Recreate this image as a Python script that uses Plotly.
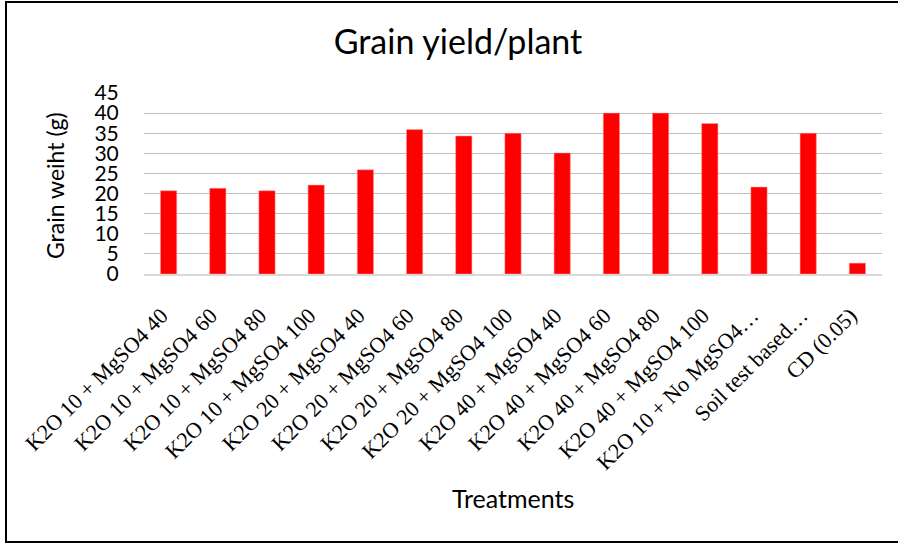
import plotly.graph_objects as go

categories = [
    "K2O 10 + MgSO4 40", "K2O 10 + MgSO4 60", "K2O 10 + MgSO4 80", "K2O 10 + MgSO4 100",
    "K2O 20 + MgSO4 40", "K2O 20 + MgSO4 60", "K2O 20 + MgSO4 80", "K2O 20 + MgSO4 100",
    "K2O 40 + MgSO4 40", "K2O 40 + MgSO4 60", "K2O 40 + MgSO4 80", "K2O 40 + MgSO4 100",
    "K2O 10 + No MgSO4…", "Soil test based…", "CD (0.05)",
]
grain_weight = [20.7, 21.3, 20.7, 22.1, 25.9, 35.9, 34.3, 35.0, 30.1, 40.0, 40.0, 37.4, 21.6, 35.0, 2.7]

W, H = 898, 544
L, R, T, B = 144, 16, 93, 270

fig = go.Figure(go.Bar(x=categories, y=grain_weight, marker=dict(color="#FF0000", line=dict(color="#FF9999", width=0.5)), width=0.33))

pw = W - L - R
ph = H - T - B

def px_x(x):
    return (x - L) / pw

def px_y(y):
    return (H - B - y) / ph

fig.update_layout(
    width=W, height=H,
    margin=dict(l=L, r=R, t=T, b=B, autoexpand=False),
    paper_bgcolor="white", plot_bgcolor="white",
    showlegend=False,
    title=dict(text="Grain yield/plant", x=458 / W, xanchor="center", y=1 - 42 / H, yanchor="middle",
               font=dict(family="Lato", size=34, color="#000000")),
    xaxis=dict(tickangle=-45, tickfont=dict(family="Liberation Serif", size=22, color="#000000"),
               showgrid=False, showline=True, linecolor="#D9D9D9", linewidth=2,
               ticks="outside", ticklen=18, tickcolor="rgba(0,0,0,0)", automargin=False,
               ticklabelshift=-7),
    yaxis=dict(range=[0, 45], dtick=5, showgrid=True, gridcolor="#BFBFBF", gridwidth=1.3,
               zeroline=False, tickfont=dict(family="Lato", size=21, color="#000000"),
               ticks="outside", ticklen=20, tickcolor="rgba(0,0,0,0)", automargin=False),
    annotations=[
        dict(text="Treatments", xref="paper", yref="paper", x=px_x(513), y=px_y(498),
             xanchor="center", yanchor="middle", showarrow=False,
             font=dict(family="Lato", size=25, color="#000000")),
        dict(text="Grain weiht (g)", xref="paper", yref="paper", x=px_x(55), y=px_y(186),
             xanchor="center", yanchor="middle", showarrow=False, textangle=-90,
             font=dict(family="Lato", size=23, color="#000000")),
    ],
    shapes=[dict(type="rect", xref="paper", yref="paper",
                 x0=px_x(6), x1=px_x(905), y0=px_y(542), y1=px_y(2),
                 line=dict(color="#000000", width=2), layer="above")],
)

fig.write_html("out.html", config={"displayModeBar": False},
               post_script="document.body.style.margin='0';")
